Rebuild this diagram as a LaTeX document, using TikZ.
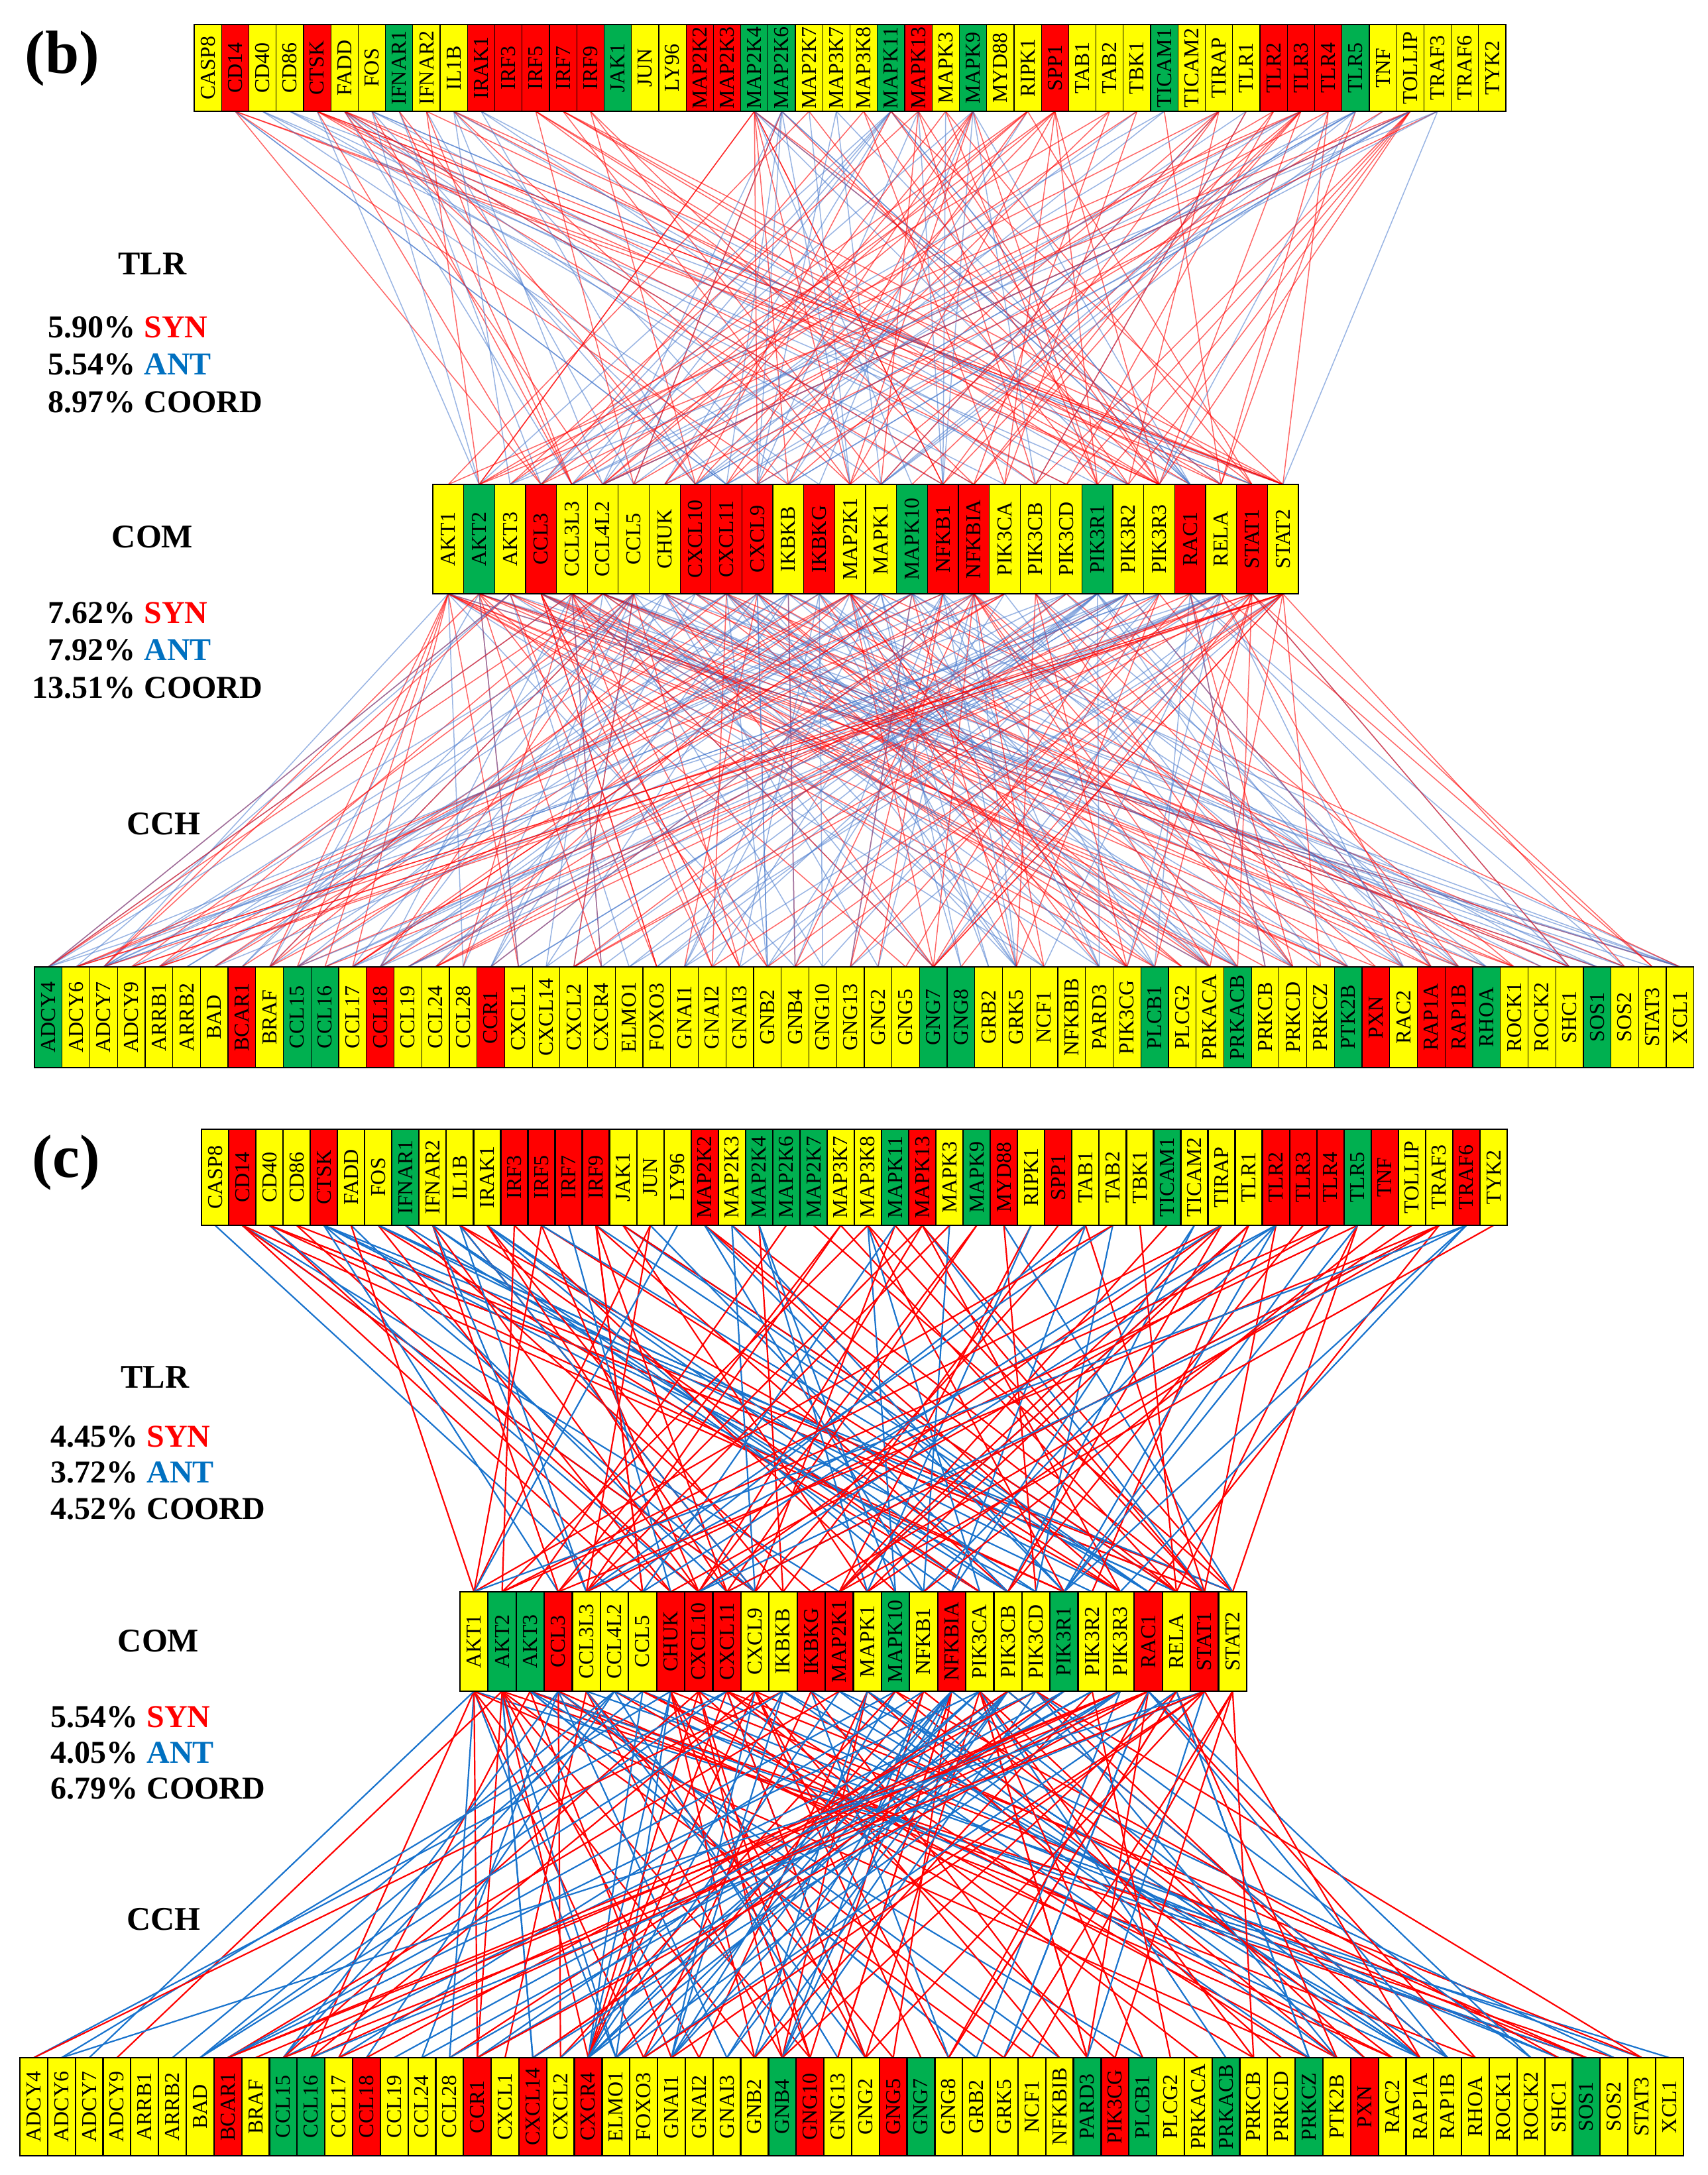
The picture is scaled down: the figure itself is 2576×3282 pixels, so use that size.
\documentclass[tikz,border=0pt]{standalone}
\usepackage{fontspec}
\setmainfont{Liberation Serif}
\usetikzlibrary{backgrounds}
\definecolor{gY}{RGB}{255,255,0}
\definecolor{gR}{RGB}{255,0,0}
\definecolor{gG}{RGB}{0,176,80}
\definecolor{antblue}{RGB}{0,112,192}
\definecolor{lnred}{RGB}{255,0,0}
\definecolor{lnblueb}{RGB}{70,120,205}
\definecolor{lnbluec}{RGB}{25,115,205}
\tikzset{
  gene/.style={draw=black, inner sep=0pt, outer sep=0pt, text=black,
    font=\fontsize{16}{16}\selectfont},
  geneB/.style={gene, line width=0.6pt},
  geneC/.style={gene, line width=1.1pt},
  lbR/.style={draw=lnred, draw opacity=0.6, line width=0.75pt},
  lbB/.style={draw=lnblueb, draw opacity=0.55, line width=0.75pt},
  lcR/.style={draw=lnred, line width=1.1pt},
  lcB/.style={draw=lnbluec, line width=1.1pt},
  statn/.style={font=\fontsize{24}{24}\selectfont\bfseries, inner sep=0pt,
    text height=17pt, text depth=0pt, anchor=east},
  statw/.style={font=\fontsize{24}{24}\selectfont\bfseries, inner sep=0pt,
    text height=17pt, text depth=0pt, anchor=west},
  hdr/.style={font=\fontsize{25}{25}\selectfont\bfseries, inner sep=0pt},
  plab/.style={font=\fontsize{46}{46}\selectfont\bfseries, inner sep=0pt}
}
\begin{document}
\begin{tikzpicture}[x=0.5pt,y=-0.5pt]
\useasboundingbox (0,0) rectangle (2576,3282);

% ---------------- panel (b) rows ----------------
\foreach \nm/\cc [count=\i] in {CASP8/Y,CD14/R,CD40/Y,CD86/Y,CTSK/R,FADD/Y,FOS/Y,IFNAR1/G,IFNAR2/Y,IL1B/Y,IRAK1/R,IRF3/R,IRF5/R,IRF7/R,IRF9/R,JAK1/G,JUN/Y,LY96/Y,MAP2K2/R,MAP2K3/R,MAP2K4/G,MAP2K6/G,MAP2K7/Y,MAP3K7/Y,MAP3K8/Y,MAPK11/G,MAPK13/R,MAPK3/Y,MAPK9/G,MYD88/Y,RIPK1/Y,SPP1/R,TAB1/Y,TAB2/Y,TBK1/Y,TICAM1/G,TICAM2/Y,TIRAP/Y,TLR1/Y,TLR2/R,TLR3/R,TLR4/R,TLR5/G,TNF/Y,TOLLIP/Y,TRAF3/Y,TRAF6/Y,TYK2/Y}
  {\node[geneB, fill=g\cc, minimum width=20.6pt, minimum height=65.5pt] (bt\i) at ({293+(\i-0.5)*41.23},102.5) {\rotatebox{90}{\nm}};}

\foreach \nm/\cc [count=\i] in {AKT1/Y,AKT2/G,AKT3/Y,CCL3/R,CCL3L3/Y,CCL4L2/Y,CCL5/Y,CHUK/Y,CXCL10/R,CXCL11/R,CXCL9/R,IKBKB/Y,IKBKG/R,MAP2K1/Y,MAPK1/Y,MAPK10/G,NFKB1/R,NFKBIA/R,PIK3CA/Y,PIK3CB/Y,PIK3CD/Y,PIK3R1/G,PIK3R2/Y,PIK3R3/Y,RAC1/R,RELA/Y,STAT1/R,STAT2/Y}
  {\node[geneB, fill=g\cc, minimum width=23.3pt, minimum height=82.5pt] (bm\i) at ({653+(\i-0.5)*46.64},813.5) {\rotatebox{90}{\nm}};}

\foreach \nm/\cc [count=\i] in {ADCY4/G,ADCY6/Y,ADCY7/Y,ADCY9/Y,ARRB1/Y,ARRB2/Y,BAD/Y,BCAR1/R,BRAF/Y,CCL15/G,CCL16/G,CCL17/Y,CCL18/R,CCL19/Y,CCL24/Y,CCL28/Y,CCR1/R,CXCL1/Y,CXCL14/Y,CXCL2/Y,CXCR4/Y,ELMO1/Y,FOXO3/Y,GNAI1/Y,GNAI2/Y,GNAI3/Y,GNB2/Y,GNB4/Y,GNG10/Y,GNG13/Y,GNG2/Y,GNG5/Y,GNG7/G,GNG8/G,GRB2/Y,GRK5/Y,NCF1/Y,NFKBIB/Y,PARD3/Y,PIK3CG/Y,PLCB1/G,PLCG2/Y,PRKACA/Y,PRKACB/G,PRKCB/Y,PRKCD/Y,PRKCZ/Y,PTK2B/G,PXN/R,RAC2/Y,RAP1A/R,RAP1B/R,RHOA/G,ROCK1/Y,ROCK2/Y,SHC1/Y,SOS1/G,SOS2/Y,STAT3/Y,XCL1/Y}
  {\node[geneB, fill=g\cc, minimum width=20.85pt, minimum height=76pt] (bb\i) at ({52+(\i-0.5)*41.73},1535) {\rotatebox{90}{\nm}};}

% ---------------- panel (c) rows ----------------
\foreach \nm/\cc [count=\i] in {CASP8/Y,CD14/R,CD40/Y,CD86/Y,CTSK/R,FADD/Y,FOS/Y,IFNAR1/G,IFNAR2/Y,IL1B/Y,IRAK1/Y,IRF3/R,IRF5/R,IRF7/R,IRF9/R,JAK1/Y,JUN/Y,LY96/Y,MAP2K2/R,MAP2K3/Y,MAP2K4/G,MAP2K6/G,MAP2K7/G,MAP3K7/Y,MAP3K8/Y,MAPK11/G,MAPK13/R,MAPK3/Y,MAPK9/G,MYD88/R,RIPK1/Y,SPP1/R,TAB1/Y,TAB2/Y,TBK1/Y,TICAM1/G,TICAM2/Y,TIRAP/Y,TLR1/Y,TLR2/R,TLR3/R,TLR4/R,TLR5/G,TNF/R,TOLLIP/Y,TRAF3/Y,TRAF6/R,TYK2/Y}
  {\node[geneC, fill=g\cc, minimum width=20.5pt, minimum height=72.5pt] (ct\i) at ({304+(\i-0.5)*41.04},1776.5) {\rotatebox{90}{\nm}};}

\foreach \nm/\cc [count=\i] in {AKT1/Y,AKT2/G,AKT3/G,CCL3/R,CCL3L3/Y,CCL4L2/Y,CCL5/Y,CHUK/R,CXCL10/R,CXCL11/R,CXCL9/Y,IKBKB/Y,IKBKG/R,MAP2K1/R,MAPK1/Y,MAPK10/G,NFKB1/Y,NFKBIA/R,PIK3CA/Y,PIK3CB/Y,PIK3CD/Y,PIK3R1/G,PIK3R2/Y,PIK3R3/Y,RAC1/R,RELA/Y,STAT1/R,STAT2/Y}
  {\node[geneC, fill=g\cc, minimum width=21.2pt, minimum height=75pt] (cm\i) at ({694+(\i-0.5)*42.39},2477) {\rotatebox{90}{\nm}};}

\foreach \nm/\cc [count=\i] in {ADCY4/Y,ADCY6/Y,ADCY7/Y,ADCY9/Y,ARRB1/Y,ARRB2/Y,BAD/Y,BCAR1/R,BRAF/Y,CCL15/G,CCL16/G,CCL17/Y,CCL18/R,CCL19/Y,CCL24/Y,CCL28/Y,CCR1/R,CXCL1/Y,CXCL14/R,CXCL2/Y,CXCR4/R,ELMO1/Y,FOXO3/Y,GNAI1/Y,GNAI2/Y,GNAI3/Y,GNB2/Y,GNB4/G,GNG10/R,GNG13/Y,GNG2/Y,GNG5/R,GNG7/G,GNG8/Y,GRB2/Y,GRK5/Y,NCF1/Y,NFKBIB/Y,PARD3/G,PIK3CG/R,PLCB1/G,PLCG2/Y,PRKACA/Y,PRKACB/G,PRKCB/Y,PRKCD/Y,PRKCZ/G,PTK2B/Y,PXN/R,RAC2/Y,RAP1A/Y,RAP1B/Y,RHOA/Y,ROCK1/Y,ROCK2/Y,SHC1/Y,SOS1/G,SOS2/Y,STAT3/Y,XCL1/Y}
  {\node[geneC, fill=g\cc, minimum width=20.9pt, minimum height=74pt] (cb\i) at ({30+(\i-0.5)*41.83},3179) {\rotatebox{90}{\nm}};}

% ---------------- labels ----------------
\node[plab] (pb) at (94,88) {(b)};
\node[hdr] (btlr) at (230,398) {TLR};
\node[statn] (b1n) at (205,492) {5.90\%};  \node[statw, text=gR] (b1w) at (217,492) {SYN};
\node[statn] (b2n) at (205,548) {5.54\%};  \node[statw, text=antblue] (b2w) at (217,548) {ANT};
\node[statn] (b3n) at (205,605) {8.97\%};  \node[statw] (b3w) at (217,605) {COORD};
\node[hdr] (bcom) at (230,810) {COM};
\node[statn] (b4n) at (205,923) {7.62\%};  \node[statw, text=gR] (b4w) at (217,923) {SYN};
\node[statn] (b5n) at (205,979) {7.92\%};  \node[statw, text=antblue] (b5w) at (217,979) {ANT};
\node[statn] (b6n) at (205,1036) {13.51\%}; \node[statw] (b6w) at (217,1036) {COORD};
\node[hdr] (bcch) at (247,1243) {CCH};

\node[plab] (pc) at (100,1754) {(c)};
\node[hdr] (ctlr) at (234,2078) {TLR};
\node[statn] (c1n) at (209,2166) {4.45\%};  \node[statw, text=gR] (c1w) at (221,2166) {SYN};
\node[statn] (c2n) at (209,2220) {3.72\%};  \node[statw, text=antblue] (c2w) at (221,2220) {ANT};
\node[statn] (c3n) at (209,2275) {4.52\%};  \node[statw] (c3w) at (221,2275) {COORD};
\node[hdr] (ccom) at (239,2476) {COM};
\node[statn] (c4n) at (209,2589) {5.54\%};  \node[statw, text=gR] (c4w) at (221,2589) {SYN};
\node[statn] (c5n) at (209,2643) {4.05\%};  \node[statw, text=antblue] (c5w) at (221,2643) {ANT};
\node[statn] (c6n) at (209,2697) {6.79\%};  \node[statw] (c6w) at (221,2697) {COORD};
\node[hdr] (ccch) at (247,2896) {CCH};

% ---------------- connectors ----------------
\begin{scope}[on background layer]
\fill[white] (0,0) rectangle (2576,3282);
\pgfmathsetseed{31}
% (b) TLR -> COM
\foreach \src/\cnt/\pr in {2/6/50,3/3/20,4/3/20,5/7/90,6/9/60,7/6/50,8/3/20,9/4/90,10/7/50,11/3/20,13/4/90,14/4/90,15/3/90,21/12/50,22/9/20,23/3/20,24/3/20,25/3/80,26/10/40,27/6/50,28/4/80,29/10/50,31/6/50,32/7/90,34/3/90,35/3/20,36/3/90,38/7/90,39/3/30,40/3/90,41/9/90,42/4/90,43/7/20,44/2/20,45/12/50,46/4/20}{
  \foreach \j in {1,...,\cnt}{
    \pgfmathrandominteger{\mytg}{1}{28}
    \pgfmathrandominteger{\myr}{1}{100}
    \ifnum\myr>\pr\relax\def\lnsty{lbB}\else\def\lnsty{lbR}\fi
    \draw[\lnsty] (bt\src.south) -- (bm\mytg.north);
  }
}
% (b) COM -> CCH
\foreach \src/\cnt/\pr in {1/16/70,2/12/50,3/10/60,4/12/80,5/14/60,6/14/50,7/12/60,8/10/40,9/6/60,10/12/70,11/12/50,12/10/40,13/8/60,14/16/50,15/8/30,16/12/60,17/10/30,18/14/50,19/6/50,20/6/40,21/6/50,22/12/25,23/10/50,24/8/60,25/8/70,26/14/55,27/12/85,28/16/85}{
  \foreach \j in {1,...,\cnt}{
    \pgfmathrandominteger{\mytg}{1}{60}
    \pgfmathrandominteger{\myr}{1}{100}
    \ifnum\myr>\pr\relax\def\lnsty{lbB}\else\def\lnsty{lbR}\fi
    \draw[\lnsty] (bm\src.south) -- (bb\mytg.north);
  }
}
% (c) TLR -> COM
\foreach \src in {1,...,48}{
  \pgfmathrandominteger{\cnt}{1}{5}
  \foreach \j in {1,...,\cnt}{
    \pgfmathrandominteger{\mytg}{1}{28}
    \pgfmathrandominteger{\myr}{1}{100}
    \ifnum\myr>55\relax\def\lnsty{lcB}\else\def\lnsty{lcR}\fi
    \draw[\lnsty] (ct\src.south) -- (cm\mytg.north);
  }
}
% (c) COM -> CCH
\foreach \src in {1,...,28}{
  \pgfmathrandominteger{\cnt}{4}{10}
  \foreach \j in {1,...,\cnt}{
    \pgfmathrandominteger{\mytg}{1}{60}
    \pgfmathrandominteger{\myr}{1}{100}
    \ifnum\myr>55\relax\def\lnsty{lcB}\else\def\lnsty{lcR}\fi
    \draw[\lnsty] (cm\src.south) -- (cb\mytg.north);
  }
}
\end{scope}
\end{tikzpicture}
\end{document}
